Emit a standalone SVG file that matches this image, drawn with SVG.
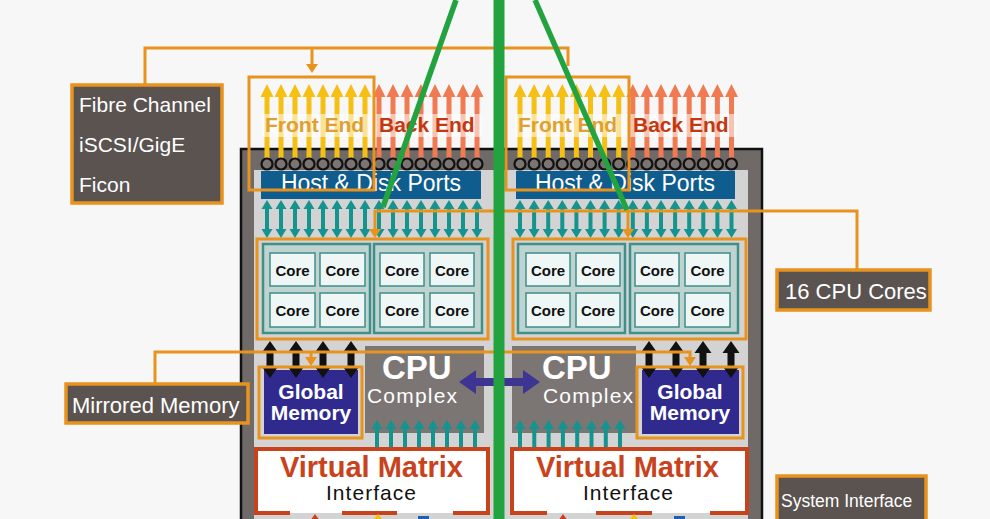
<svg xmlns="http://www.w3.org/2000/svg" xmlns:xlink="http://www.w3.org/1999/xlink" width="990" height="519" viewBox="0 0 990 519">
<style>
text{font-family:"Liberation Sans",Arial,sans-serif}
.lbl{fill:#5a5350;stroke:#e8931e;stroke-width:3.5}
.lt{fill:#ffffff;font-size:21px}
.ann{fill:none;stroke:#e8931e;stroke-width:3}
.annf{fill:#e8931e}
.fe{fill:#f5bf14}
.be{fill:#f07a52}
.port{fill:#7a7573;stroke:#111;stroke-width:2.2}
.teal{fill:#15938f}
.blk{fill:#111}
.grp{fill:#bfd3d1;stroke:#3f8f8a;stroke-width:2.5}
.cell{fill:#eef7f6;stroke:#3f8f8a;stroke-width:1.5}
.core{font-size:15px;font-weight:bold;fill:#111;text-anchor:middle}
.gm{fill:#302a8f}
.gmt{font-size:21px;font-weight:bold;fill:#fff;text-anchor:middle}
.cpu{fill:#7b7674}
.vm{fill:#fff;stroke:#c8421b;stroke-width:4}
.vmt{font-size:29px;font-weight:bold;fill:#c8421b}
.green{stroke:#22a33f;fill:none}
</style>
<defs>
<path id="up" d="M-2.5,164 V97 H-6.5 L0,84 L6.5,97 H2.5 V164 Z"/>
<path id="dt" d="M0,0 L5.5,9 H2 V29 H5.5 L0,38 L-5.5,29 H-2 V9 H-5.5 Z"/>
<path id="db" d="M0,0 L8.5,12 H3.5 V25 H8.5 L0,37 L-8.5,25 H-3.5 V12 H-8.5 Z"/>
</defs>
<rect width="990" height="519" fill="#f7f7f7"/>

<g id="chassis">
<rect x="241" y="149" width="521" height="380" fill="#6f6a68" stroke="#111" stroke-width="2.5"/>
<rect x="254" y="170" width="494" height="360" fill="#d3d3d3"/>
<rect x="365" y="346" width="119" height="87" class="cpu"/>
<rect x="512" y="346" width="124" height="87" class="cpu"/>
</g>

<g id="ports-left">
<use href="#up" x="267" class="fe"/><use href="#up" x="281" class="fe"/><use href="#up" x="295" class="fe"/><use href="#up" x="309" class="fe"/>
<use href="#up" x="323" class="fe"/><use href="#up" x="337" class="fe"/><use href="#up" x="351" class="fe"/><use href="#up" x="365" class="fe"/>
<use href="#up" x="379" class="be"/><use href="#up" x="393" class="be"/><use href="#up" x="407" class="be"/><use href="#up" x="421" class="be"/>
<use href="#up" x="435" class="be"/><use href="#up" x="449" class="be"/><use href="#up" x="463" class="be"/><use href="#up" x="477" class="be"/>
<rect x="262" y="114" width="220" height="23" fill="#fff" opacity="0.55"/>
<text x="265" y="132" font-size="21" font-weight="bold" fill="#e0a030">Front End</text>
<text x="379" y="132" font-size="21" font-weight="bold" fill="#c3380f">Back End</text>
<g class="port">
<circle cx="267" cy="164" r="5.5"/><circle cx="281" cy="164" r="5.5"/><circle cx="295" cy="164" r="5.5"/><circle cx="309" cy="164" r="5.5"/>
<circle cx="323" cy="164" r="5.5"/><circle cx="337" cy="164" r="5.5"/><circle cx="351" cy="164" r="5.5"/><circle cx="365" cy="164" r="5.5"/>
<circle cx="379" cy="164" r="5.5"/><circle cx="393" cy="164" r="5.5"/><circle cx="407" cy="164" r="5.5"/><circle cx="421" cy="164" r="5.5"/>
<circle cx="435" cy="164" r="5.5"/><circle cx="449" cy="164" r="5.5"/><circle cx="463" cy="164" r="5.5"/><circle cx="477" cy="164" r="5.5"/>
</g>
</g>
<g id="ports-right">
<use href="#up" x="520" class="fe"/><use href="#up" x="534.1" class="fe"/><use href="#up" x="548.2" class="fe"/><use href="#up" x="562.3" class="fe"/>
<use href="#up" x="576.4" class="fe"/><use href="#up" x="590.5" class="fe"/><use href="#up" x="604.6" class="fe"/><use href="#up" x="618.7" class="fe"/>
<use href="#up" x="632.8" class="be"/><use href="#up" x="646.9" class="be"/><use href="#up" x="661" class="be"/><use href="#up" x="675.1" class="be"/>
<use href="#up" x="689.2" class="be"/><use href="#up" x="703.3" class="be"/><use href="#up" x="717.4" class="be"/><use href="#up" x="731.5" class="be"/>
<rect x="515" y="114" width="222" height="23" fill="#fff" opacity="0.55"/>
<text x="518" y="132" font-size="21" font-weight="bold" fill="#e0a030">Front End</text>
<text x="633" y="132" font-size="21" font-weight="bold" fill="#c3380f">Back End</text>
<g class="port">
<circle cx="520" cy="164" r="5.5"/><circle cx="534.1" cy="164" r="5.5"/><circle cx="548.2" cy="164" r="5.5"/><circle cx="562.3" cy="164" r="5.5"/>
<circle cx="576.4" cy="164" r="5.5"/><circle cx="590.5" cy="164" r="5.5"/><circle cx="604.6" cy="164" r="5.5"/><circle cx="618.7" cy="164" r="5.5"/>
<circle cx="632.8" cy="164" r="5.5"/><circle cx="646.9" cy="164" r="5.5"/><circle cx="661" cy="164" r="5.5"/><circle cx="675.1" cy="164" r="5.5"/>
<circle cx="689.2" cy="164" r="5.5"/><circle cx="703.3" cy="164" r="5.5"/><circle cx="717.4" cy="164" r="5.5"/><circle cx="731.5" cy="164" r="5.5"/>
</g>
</g>

<g id="hdp-left">
<rect x="261" y="171" width="220" height="28" fill="#0f5d8f"/>
<text x="371" y="191" font-size="23" fill="#fff" text-anchor="middle">Host &amp; Disk Ports</text>
</g>
<g id="hdp-right">
<rect x="516" y="171" width="219" height="28" fill="#0f5d8f"/>
<text x="625" y="191" font-size="23" fill="#fff" text-anchor="middle">Host &amp; Disk Ports</text>
</g>

<g id="bus-left" class="teal">
<use href="#dt" x="267" y="200"/><use href="#dt" x="281" y="200"/><use href="#dt" x="295" y="200"/><use href="#dt" x="309" y="200"/>
<use href="#dt" x="323" y="200"/><use href="#dt" x="337" y="200"/><use href="#dt" x="351" y="200"/><use href="#dt" x="365" y="200"/>
<use href="#dt" x="379" y="200"/><use href="#dt" x="393" y="200"/><use href="#dt" x="407" y="200"/><use href="#dt" x="421" y="200"/>
<use href="#dt" x="435" y="200"/><use href="#dt" x="449" y="200"/><use href="#dt" x="463" y="200"/><use href="#dt" x="477" y="200"/>
</g>
<g id="bus-right" class="teal">
<use href="#dt" x="520" y="200"/><use href="#dt" x="534.1" y="200"/><use href="#dt" x="548.2" y="200"/><use href="#dt" x="562.3" y="200"/>
<use href="#dt" x="576.4" y="200"/><use href="#dt" x="590.5" y="200"/><use href="#dt" x="604.6" y="200"/><use href="#dt" x="618.7" y="200"/>
<use href="#dt" x="632.8" y="200"/><use href="#dt" x="646.9" y="200"/><use href="#dt" x="661" y="200"/><use href="#dt" x="675.1" y="200"/>
<use href="#dt" x="689.2" y="200"/><use href="#dt" x="703.3" y="200"/><use href="#dt" x="717.4" y="200"/><use href="#dt" x="731.5" y="200"/>
</g>

<g id="cores-left">
<rect x="263" y="244" width="107" height="89" class="grp"/>
<rect x="374" y="244" width="108" height="89" class="grp"/>
<rect x="270" y="253" width="45" height="33" class="cell"/><rect x="320" y="253" width="45" height="33" class="cell"/>
<rect x="380" y="253" width="44" height="33" class="cell"/><rect x="430" y="253" width="44" height="33" class="cell"/>
<rect x="270" y="293" width="45" height="34" class="cell"/><rect x="320" y="293" width="45" height="34" class="cell"/>
<rect x="380" y="293" width="44" height="34" class="cell"/><rect x="430" y="293" width="44" height="34" class="cell"/>
<text class="core" x="292.5" y="276">Core</text><text class="core" x="342.5" y="276">Core</text>
<text class="core" x="402" y="276">Core</text><text class="core" x="452" y="276">Core</text>
<text class="core" x="292.5" y="316">Core</text><text class="core" x="342.5" y="316">Core</text>
<text class="core" x="402" y="316">Core</text><text class="core" x="452" y="316">Core</text>
</g>
<g id="cores-right">
<rect x="518" y="244" width="107" height="89" class="grp"/>
<rect x="630" y="244" width="108" height="89" class="grp"/>
<rect x="526" y="253" width="44" height="33" class="cell"/><rect x="576" y="253" width="44" height="33" class="cell"/>
<rect x="635" y="253" width="44" height="33" class="cell"/><rect x="685" y="253" width="45" height="33" class="cell"/>
<rect x="526" y="293" width="44" height="34" class="cell"/><rect x="576" y="293" width="44" height="34" class="cell"/>
<rect x="635" y="293" width="44" height="34" class="cell"/><rect x="685" y="293" width="45" height="34" class="cell"/>
<text class="core" x="548" y="276">Core</text><text class="core" x="598" y="276">Core</text>
<text class="core" x="657" y="276">Core</text><text class="core" x="707.5" y="276">Core</text>
<text class="core" x="548" y="316">Core</text><text class="core" x="598" y="316">Core</text>
<text class="core" x="657" y="316">Core</text><text class="core" x="707.5" y="316">Core</text>
</g>

<g id="gm-left">
<rect x="264" y="370" width="94" height="64" class="gm"/>
<text class="gmt" x="311" y="399">Global</text>
<text class="gmt" x="311" y="420">Memory</text>
</g>
<g id="gm-right">
<rect x="642" y="370" width="97" height="64" class="gm"/>
<text class="gmt" x="690" y="399">Global</text>
<text class="gmt" x="690" y="420">Memory</text>
</g>
<g id="mem-bus" class="blk">
<use href="#db" x="270" y="341"/><use href="#db" x="296" y="341"/><use href="#db" x="323" y="341"/><use href="#db" x="351" y="341"/>
<use href="#db" x="649" y="341"/><use href="#db" x="676" y="341"/><use href="#db" x="703" y="341"/><use href="#db" x="731" y="341"/>
</g>

<g id="cpu-left">
<text x="382" y="379" font-size="33" font-weight="bold" fill="#fff">CPU</text>
<text x="367" y="403" font-size="21" fill="#fff" textLength="90">Complex</text>
</g>
<g id="cpu-right">
<text x="542" y="379" font-size="33" font-weight="bold" fill="#fff">CPU</text>
<text x="543" y="403" font-size="21" fill="#fff" textLength="90">Complex</text>
</g>
<g id="vm-bus" class="teal">
<use href="#dt" x="377" y="420"/><use href="#dt" x="391" y="420"/><use href="#dt" x="405" y="420"/><use href="#dt" x="419" y="420"/>
<use href="#dt" x="433" y="420"/><use href="#dt" x="447" y="420"/><use href="#dt" x="461" y="420"/><use href="#dt" x="475" y="420"/>
<use href="#dt" x="520" y="420"/><use href="#dt" x="534.3" y="420"/><use href="#dt" x="548.6" y="420"/><use href="#dt" x="562.9" y="420"/>
<use href="#dt" x="577.2" y="420"/><use href="#dt" x="591.5" y="420"/><use href="#dt" x="605.8" y="420"/><use href="#dt" x="620" y="420"/>
</g>

<g id="vm-left">
<path d="M290,513 H256 V449 H488 V513 H453 M397,513 H342" class="vm"/>
<text class="vmt" x="280" y="477" textLength="183">Virtual Matrix</text>
<text x="326" y="500" font-size="21" fill="#111" textLength="90">Interface</text>
<path d="M315,514 L310,521 H320 Z" fill="#c8421b"/>
<path d="M378,514 L372,521 H384 Z" fill="#f5bf14"/>
<rect x="418" y="516" width="11" height="5" fill="#1f5fb0"/>
</g>
<g id="vm-right">
<path d="M547,513 H512 V449 H747 V513 H710 M652,513 H596" class="vm"/>
<text class="vmt" x="536" y="477" textLength="183">Virtual Matrix</text>
<text x="583" y="500" font-size="21" fill="#111" textLength="90">Interface</text>
<path d="M563,514 L558,521 H568 Z" fill="#c8421b"/>
<path d="M634,514 L628,521 H640 Z" fill="#f5bf14"/>
<rect x="674" y="516" width="11" height="5" fill="#1f5fb0"/>
</g>

<g id="fibre">
<rect x="72" y="85" width="150" height="118" class="lbl"/>
<text class="lt" x="79" y="112">Fibre Channel</text>
<text class="lt" x="79" y="152">iSCSI/GigE</text>
<text class="lt" x="79" y="192">Ficon</text>
</g>
<g id="mirrored">
<rect x="66" y="384" width="182" height="39" class="lbl"/>
<text x="72" y="413" font-size="22" fill="#fff">Mirrored Memory</text>
</g>
<g id="cores16">
<rect x="777" y="270" width="153" height="40" class="lbl"/>
<text x="785" y="299" font-size="22" fill="#fff">16 CPU Cores</text>
</g>
<g id="sysif">
<rect x="777" y="476" width="149" height="60" class="lbl"/>
<text x="781" y="507" font-size="17.5" fill="#fff">System Interface</text>
</g>

<g id="connectors">
<rect x="249" y="77" width="125" height="113" class="ann"/>
<rect x="506" y="77" width="123" height="113" class="ann"/>
<rect x="257" y="239" width="231" height="100" class="ann"/>
<rect x="513" y="239" width="233" height="100" class="ann"/>
<rect x="259" y="367" width="103" height="71" class="ann"/>
<rect x="637" y="367" width="106" height="71" class="ann"/>
<path d="M145,85 V48 H568 V66" class="ann"/>
<path d="M312,48 V65" class="ann"/><path d="M306,64 L318,64 L312,73 Z" class="annf"/>
<path d="M857,270 V211 H375 V230" class="ann"/>
<path d="M369,229 L381,229 L375,238 Z" class="annf"/>
<path d="M628,211 V230" class="ann"/><path d="M622,229 L634,229 L628,238 Z" class="annf"/>
<path d="M155,384 V352 H690 V358" class="ann"/>
<path d="M311,352 V358" class="ann"/>
<path d="M305,357 L317,357 L311,366 Z" class="annf"/>
<path d="M684,357 L696,357 L690,366 Z" class="annf"/>
<path d="M459,382 L476,370 V378 H523 V370 L540,382 L523,394 V386 H476 V394 Z" fill="#3d3591"/>
<line x1="499" y1="0" x2="499" y2="519" class="green" stroke-width="11"/>
<line x1="456" y1="0" x2="383" y2="207" class="green" stroke-width="5.5"/>
<line x1="535" y1="0" x2="627" y2="210" class="green" stroke-width="5.5"/>
</g>
</svg>
